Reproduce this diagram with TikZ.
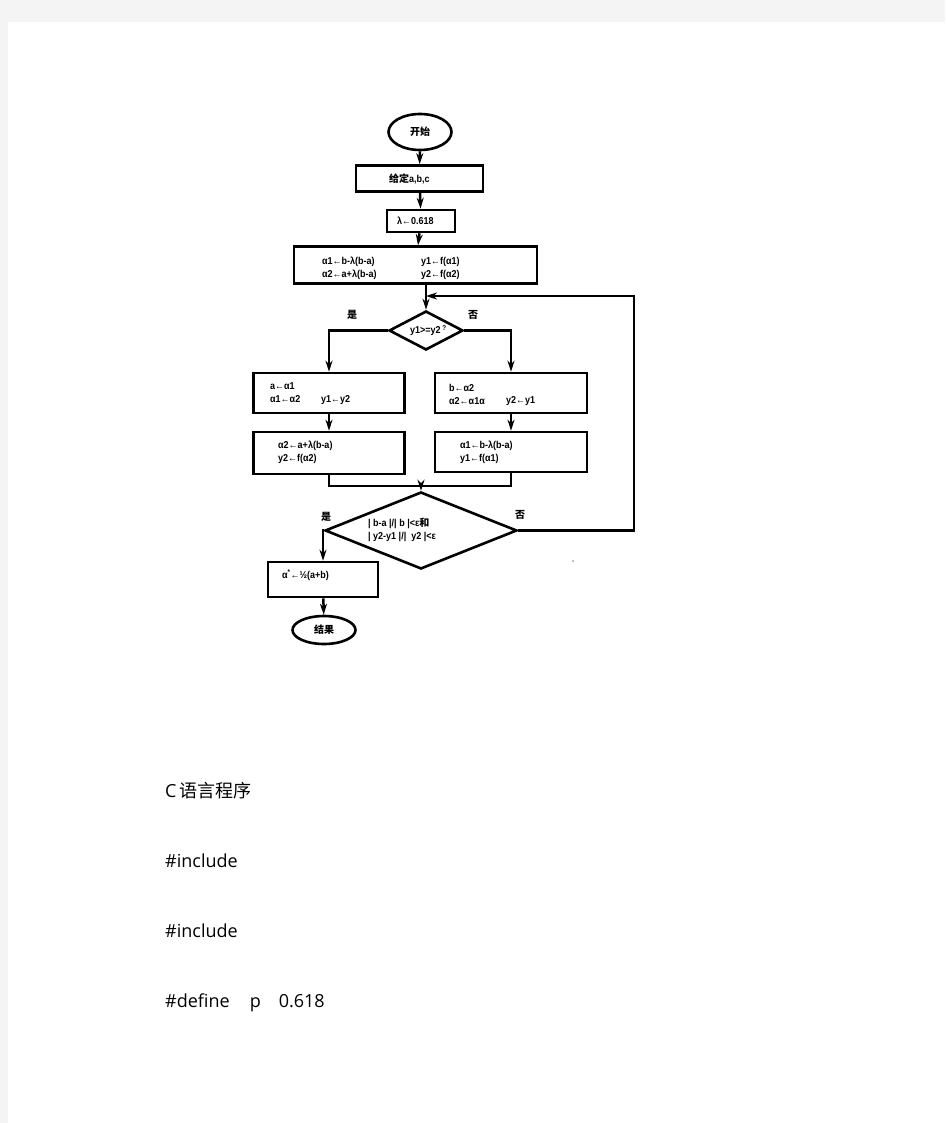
\documentclass[tikz,border=0pt]{standalone}
\usepackage{fontspec}
\setmainfont{Open Sans}
\newfontfamily\cjk{Noto Sans CJK SC}
\newfontfamily\boxfont[FakeStretch=0.9]{Liberation Sans}
\usetikzlibrary{shapes.geometric,arrows.meta}
\definecolor{pagegray}{HTML}{F4F4F4}

\begin{document}
\begin{tikzpicture}[x=1pt, y=-1pt,
    >={Stealth[length=11pt,width=7pt]},
    flow/.style={draw, line width=2.6pt, inner sep=0pt},
    procbox/.style n args={2}{flow, rectangle, minimum width=#1, minimum height=#2},
    termbox/.style n args={2}{flow, ellipse, minimum width=#1, minimum height=#2,
        font=\cjk\bfseries\fontsize{10}{11}\selectfont},
    decide/.style n args={2}{flow, diamond, minimum width=#1, minimum height=#2},
    line/.style={line width=2.5pt},
    txt/.style={anchor=west, inner sep=0pt, align=left,
        font=\boxfont\bfseries\fontsize{10}{13}\selectfont},
    yesno/.style={inner sep=0pt, font=\cjk\bfseries\fontsize{10}{11}\selectfont},
    body/.style={anchor=base west, inner sep=0pt, font=\fontsize{18}{22}\selectfont}]

    % Page and its grey margin
    \useasboundingbox (0,0) rectangle (945,1123);
    \fill[pagegray] (0,0) rectangle (945,1123);
    \fill[white] (8,22) rectangle (945,1123);

    % Flowchart blocks
    \node[termbox={63}{36}] (start) at (420,132) {开始};
    \node[procbox={127}{26}] (give) at (419.5,178.5) {};
    \node[procbox={68}{22}] (lam) at (421,221) {};
    \node[procbox={243}{37}] (init) at (415.5,265) {};
    \node[decide={74}{39}] (cmp) at (426,330.5) {};
    \node[procbox={151}{40}] (lb1) at (329,393) {};
    \node[procbox={152}{40}] (rb1) at (511,393) {};
    \node[procbox={151}{42}] (lb2) at (329,453) {};
    \node[procbox={152}{40}] (rb2) at (511,452) {};
    \node[decide={192}{77}] (chk) at (421,530.5) {};
    \node[procbox={110}{35}] (yes) at (323,579.5) {};
    \node[termbox={63}{28}] (stop) at (324,630) {结果};

    % Texts in the blocks
    \node[txt] (tgive) at (389,179) {{\cjk 给定}a,b,c};
    \node[txt] (tlam) at (397,221) {λ←0.618};
    \node[txt] (tinia) at (322,268) {α1←b-λ(b-a)\\α2←a+λ(b-a)};
    \node[txt] (tinib) at (421,268) {y1←f(α1)\\y2←f(α2)};
    \node[txt] (tcmp) at (410,331) {y1>=y2\,\raisebox{3pt}{\fontsize{7}{8}\selectfont ?}};
    \node[txt] (tlba) at (270,393) {a←α1\\α1←α2};
    \node[txt] (tlbb) at (321,400.5) {y1←y2};
    \node[txt] (trba) at (449,394) {b←α2\\α2←α1α};
    \node[txt] (trbb) at (506,401.5) {y2←y1};
    \node[txt] (tlb2) at (278,452.5) {α2←a+λ(b-a)\\y2←f(α2)};
    \node[txt] (trb2) at (460,452.5) {α1←b-λ(b-a)\\y1←f(α1)};
    \node[txt] (tchk) at (368,530) {| b-a |/| b |<ε{\cjk 和}\\| y2-y1 |/|\ \ y2 |<ε};
    \node[txt] (tyes) at (282,575) {α\textsuperscript{*}←½(a+b)};

    % Branch labels
    \node[yesno] (y1) at (352,315) {是};
    \node[yesno] (n1) at (473,315) {否};
    \node[yesno] (y2) at (326,517) {是};
    \node[yesno] (n2) at (520,515) {否};

    % Connectors
    \draw[line,->] (start) -- (give);
    \draw[line,->] (give) -- (lam);
    \draw[line,->] (lam) -- (init);
    \draw[line,->] (init.south -| cmp.north) -- (cmp.north);
    \draw[line,->] (cmp.west) -| (lb1.north);
    \draw[line,->] (cmp.east) -| (rb1.north);
    \draw[line,->] (lb1) -- (lb2);
    \draw[line,->] (rb1) -- (rb2);
    \coordinate (merge) at (chk.north |- 0,486);
    \draw[line] (lb2.south) |- (merge) -| (rb2.south);
    \draw[line,->] (merge) -- (chk.north);
    \draw[line,->] (chk.west) -| (yes.north);
    \draw[line,->] (yes) -- (stop);

    % Loop back when not yet close enough
    \coordinate (loop) at (cmp.north |- 0,296);
    \draw[line,->] (chk.east) -- (634,530.5) -- (634,296) -- (loop);

    % stray speck
    \fill[gray] (573,561) circle (0.8);

    % Text below the chart
    \node[body] (title) at (165,797) {C\,{\cjk 语言程序}};
    \node[body] (inc1) at (165,867) {\#include};
    \node[body] (inc2) at (165,937) {\#include};
    \node[body] (def) at (165,1007) {\#define\hspace{20pt}p\hspace{18pt}0.618};
\end{tikzpicture}
\end{document}
